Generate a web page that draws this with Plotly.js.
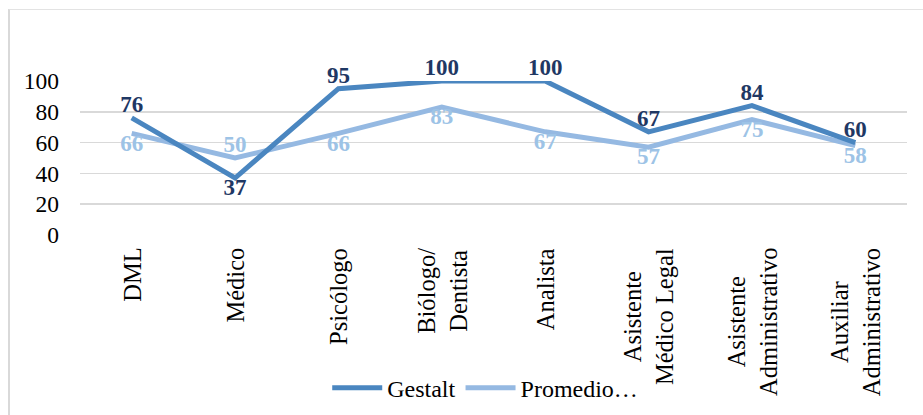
<!DOCTYPE html>
<html>
<head>
<meta charset="utf-8">
<script src="https://cdn.plot.ly/plotly-3.0.1.min.js"></script>
<style>
  html, body { margin: 0; padding: 0; background: #fff; }
  #wrap { position: relative; width: 923px; height: 415px; }
  #chart { position: absolute; left: 0; top: 0; width: 923px; height: 415px; }
  #frame { position: absolute; left: 8px; top: 9px; width: 930px; height: 420px;
           border-left: 2px solid #d9d9d9; border-top: 1px solid #e3e3e3; pointer-events: none; }
</style>
</head>
<body>
<div id="wrap">
  <div id="chart"></div>
  <div id="frame"></div>
</div>
<script>
const categories = ["DML", "Médico", "Psicólogo", "Biólogo/<br>Dentista", "Analista",
                    "Asistente<br>Médico Legal", "Asistente<br>Administrativo", "Auxiliar<br>Administrativo"];
const gestalt = [76, 37, 95, 100, 100, 67, 84, 60];
const promedio = [66, 50, 66, 83, 67, 57, 75, 58];
const gestaltPos = ["top center", "bottom center", "top center", "top center", "top center", "top center", "top center", "top center"];
const promedioPos = ["bottom center", "top center", "bottom center", "bottom center", "bottom center", "bottom center", "bottom center", "bottom center"];
const yTicks = [0, 20, 40, 60, 80, 100];

const FONT = "Liberation Serif";
const idx = categories.map((_, i) => i);

const traces = [
  {
    x: idx, y: promedio, name: "Promedio…", type: "scatter", mode: "lines+text",
    line: { color: "#95B9E2", width: 5 },
    text: promedio.map(String), textposition: promedioPos,
    textfont: { family: FONT, size: 23, color: "#9DC3E6", weight: "bold" },
    cliponaxis: false, hoverinfo: "skip"
  },
  {
    x: idx, y: gestalt, name: "Gestalt", type: "scatter", mode: "lines+text",
    line: { color: "#4A86C0", width: 5 },
    text: gestalt.map(String), textposition: gestaltPos,
    textfont: { family: FONT, size: 23, color: "#1F3864", weight: "bold" },
    cliponaxis: false, hoverinfo: "skip"
  }
];

const annotations = categories.map((c, i) => ({
  x: i, y: 0, xref: "x", yref: "paper",
  text: c, textangle: -90, showarrow: false,
  xanchor: "center", yanchor: "top", yshift: -11, align: "center",
  font: { family: FONT, size: 24.5, color: "#000" }
}));

const layout = {
  width: 923, height: 415,
  margin: { l: 80, r: 16, t: 81, b: 180 },
  paper_bgcolor: "#fff", plot_bgcolor: "#fff",
  font: { family: FONT, size: 23, color: "#000" },
  showlegend: true,
  legend: {
    orientation: "h", xref: "paper", yref: "container",
    x: 0.49, xanchor: "center", y: 0.065, yanchor: "middle",
    font: { family: FONT, size: 24, color: "#000" },
    traceorder: "reversed", itemwidth: 50
  },
  xaxis: {
    range: [-0.5, categories.length - 0.5],
    showgrid: false, zeroline: false, showline: false,
    showticklabels: false, ticks: ""
  },
  yaxis: {
    range: [0, 100], tickvals: yTicks, ticktext: yTicks.map(String),
    showgrid: true, gridcolor: "#d9d9d9", gridwidth: 1.5,
    zeroline: false, showline: false, ticks: "",
    tickfont: { family: FONT, size: 23.5, color: "#000" }, ticklabelstandoff: 20
  },
  annotations: annotations
};

Plotly.newPlot("chart", traces, layout, { displayModeBar: false, staticPlot: true });
</script>
</body>
</html>
